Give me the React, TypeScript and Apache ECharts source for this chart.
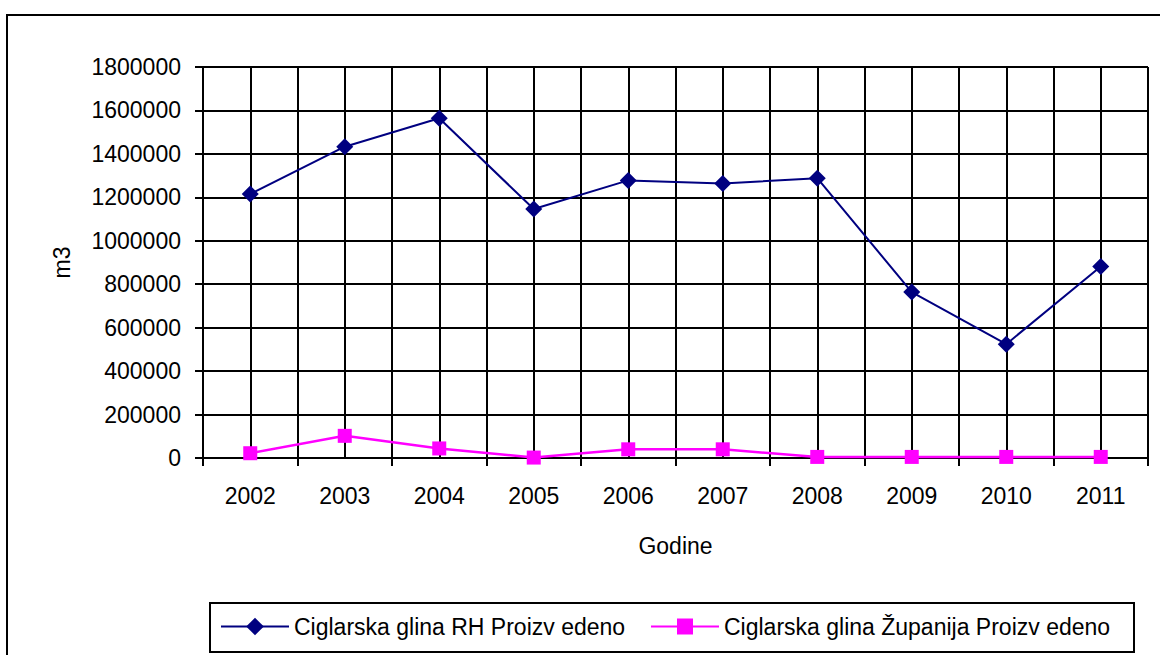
import React, { useEffect, useRef } from "react";
import * as echarts from "echarts";

const years = ["2002", "2003", "2004", "2005", "2006", "2007", "2008", "2009", "2010", "2011"];
const rhValues = [1215000, 1433000, 1564000, 1146000, 1278000, 1264000, 1288000, 764000, 524000, 882000];
const zupanijaValues = [22000, 102000, 44000, 2000, 40000, 40000, 5000, 5000, 5000, 5000];
const seriesNames = ["Ciglarska glina RH Proizv edeno", "Ciglarska glina Županija Proizv edeno"];
const yMax = 1800000;
const yStep = 200000;

const FONT = "Liberation Sans, Arial, sans-serif";
const FS = 23;

export default function App() {
  const ref = useRef<HTMLDivElement>(null);
  useEffect(() => {
    if (!ref.current) return;
    const chart = echarts.init(ref.current, undefined, { renderer: "svg" });
    const gridLeft = 203;
    const gridTop = 67;
    const gridWidth = 945;
    const gridHeight = 391;
    chart.setOption({
      animation: false,
      backgroundColor: "#ffffff",
      textStyle: { fontFamily: FONT, color: "#000" },
      grid: { left: gridLeft, top: gridTop, width: gridWidth, height: gridHeight, containLabel: false },
      legend: [
        {
          data: [seriesNames[0]],
          left: 220,
          top: 615,
          padding: 0,
          itemWidth: 68,
          itemHeight: 22,
          itemGap: 5,
          textStyle: { fontSize: FS, color: "#000", fontFamily: FONT },
          selectedMode: false,
        },
        {
          data: [seriesNames[1]],
          left: 650,
          top: 615,
          padding: 0,
          itemWidth: 68,
          itemHeight: 20,
          textStyle: { fontSize: FS, color: "#000", fontFamily: FONT },
          selectedMode: false,
        },
      ],
      xAxis: [
        {
          type: "category",
          data: years,
          boundaryGap: true,
          name: "Godine",
          nameLocation: "middle",
          nameGap: 76,
          nameTextStyle: { fontSize: FS, color: "#000", fontFamily: FONT },
          axisLine: { show: true, lineStyle: { color: "#000", width: 2 } },
          axisTick: { show: true, length: 8, lineStyle: { color: "#000", width: 2 } },
          axisLabel: { fontSize: FS, color: "#000", margin: 26, fontFamily: FONT },
          splitLine: { show: false },
          z: 3,
        },
        {
          type: "value",
          min: 0,
          max: years.length * 2,
          interval: 1,
          position: "bottom",
          axisLine: { show: false },
          axisTick: { show: false },
          axisLabel: { show: false },
          splitLine: { show: true, lineStyle: { color: "#000", width: 2 } },
        },
      ],
      yAxis: {
        type: "value",
        min: 0,
        max: yMax,
        interval: yStep,
        name: "m3",
        nameLocation: "middle",
        nameGap: 130,
        nameRotate: 90,
        nameTextStyle: { fontSize: FS, color: "#000", fontFamily: FONT },
        axisLine: { show: true, lineStyle: { color: "#000", width: 2 } },
        axisTick: { show: true, length: 8, lineStyle: { color: "#000", width: 2 } },
        axisLabel: {
          fontSize: FS,
          color: "#000",
          margin: 22,
          fontFamily: FONT,
          formatter: (v: number) => String(v),
        },
        splitLine: { show: true, lineStyle: { color: "#000", width: 2 } },
      },
      series: [
        {
          name: seriesNames[0],
          type: "line",
          data: rhValues,
          xAxisIndex: 0,
          symbol: "diamond",
          symbolSize: 17,
          color: "#000080",
          lineStyle: { color: "#000080", width: 2 },
          itemStyle: { color: "#000080" },
          z: 5,
        },
        {
          name: seriesNames[1],
          type: "line",
          data: zupanijaValues,
          xAxisIndex: 0,
          symbol: "rect",
          symbolSize: 14,
          color: "#ff00ff",
          lineStyle: { color: "#ff00ff", width: 2.5 },
          itemStyle: { color: "#ff00ff" },
          z: 5,
        },
      ],
      graphic: [
        {
          type: "rect",
          shape: { x: 7, y: 15, width: 1170, height: 660 },
          style: { fill: "none", stroke: "#000", lineWidth: 2 },
          silent: true,
        },
        {
          type: "rect",
          shape: { x: 210, y: 603, width: 924, height: 49 },
          style: { fill: "none", stroke: "#000", lineWidth: 2 },
          silent: true,
        },
      ],
    });
    return () => chart.dispose();
  }, []);
  return (
    <div
      ref={ref}
      style={{ position: "absolute", left: 0, top: 0, width: 1160, height: 655 }}
    />
  );
}
